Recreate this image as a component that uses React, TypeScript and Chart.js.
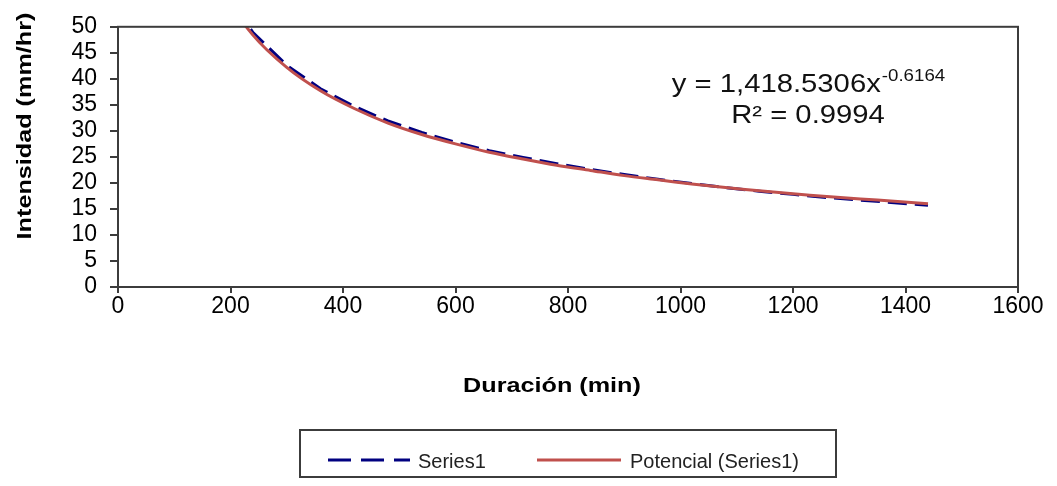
import React, { useEffect, useRef } from 'react';
import { Chart, registerables } from 'chart.js';

Chart.register(...registerables);

// ---- data ----
const durations = [60, 120, 180, 240, 300, 360, 420, 480, 540, 600, 660, 720, 780, 840, 900, 960, 1020, 1080, 1140, 1200, 1260, 1320, 1380, 1440];
const series1 = [108.0, 73.5, 58.2, 48.9, 42.6, 38.1, 34.7, 31.9, 29.7, 27.8, 26.2, 24.9, 23.7, 22.6, 21.6, 20.7, 19.9, 19.1, 18.4, 17.8, 17.2, 16.7, 16.2, 15.7];
const trendValues = [113.7, 74.2, 57.8, 48.4, 42.2, 37.7, 34.3, 31.5, 29.3, 27.5, 25.9, 24.6, 23.4, 22.4, 21.4, 20.6, 19.8, 19.1, 18.5, 17.9, 17.4, 16.9, 16.5, 16.0];

const seriesName = 'Series1';
const trendName = 'Potencial (Series1)';
const xTitle = 'Duración (min)';
const yTitle = 'Intensidad (mm/hr)';
const eqMain = 'y = 1,418.5306x';
const eqExp = '-0.6164';
const eqR2 = 'R² = 0.9994';

const X_MIN = 0, X_MAX = 1600, X_STEP = 200;
const Y_MIN = 0, Y_MAX = 50, Y_STEP = 5;

const AXIS = '#3c3c3c';
const BLUE = '#000080';
const RED = '#C0504D';
const DASH = [19, 8];
const FONT = '"Liberation Sans", Arial, sans-serif';

function stretchText(ctx: CanvasRenderingContext2D, text: string, x: number, y: number, font: string, sx: number, align: CanvasTextAlign, color: string) {
  ctx.save();
  ctx.font = font;
  ctx.fillStyle = color;
  ctx.textAlign = align;
  ctx.textBaseline = 'alphabetic';
  ctx.translate(x, y);
  ctx.scale(sx, 1);
  ctx.fillText(text, 0, 0);
  ctx.restore();
}

const overlay = {
  id: 'overlay',
  afterDraw(chart: any) {
    const { ctx, chartArea: a } = chart;
    ctx.save();
    // plot frame
    ctx.strokeStyle = AXIS;
    ctx.lineWidth = 2;
    ctx.strokeRect(a.left, a.top, a.right - a.left, a.bottom - a.top);

    // y title (rotated)
    ctx.save();
    ctx.translate(31, 126);
    ctx.rotate(-Math.PI / 2);
    ctx.scale(1.2, 1);
    ctx.font = 'bold 21px ' + FONT;
    ctx.fillStyle = '#000';
    ctx.textAlign = 'center';
    ctx.textBaseline = 'alphabetic';
    ctx.fillText(yTitle, 0, 0);
    ctx.restore();

    // x title
    stretchText(ctx, xTitle, 552, 392, 'bold 21px ' + FONT, 1.2, 'center', '#000');

    // equation
    const fMain = '25px ' + FONT;
    const fExp = '17px ' + FONT;
    ctx.font = fMain;
    const w1 = ctx.measureText(eqMain).width * 1.17;
    ctx.font = fExp;
    const w2 = ctx.measureText(eqExp).width * 1.1;
    const cx = 808;
    const start = cx - (w1 + w2) / 2;
    stretchText(ctx, eqMain, start, 92, fMain, 1.17, 'left', '#111');
    stretchText(ctx, eqExp, start + w1 + 1, 81, fExp, 1.1, 'left', '#111');
    stretchText(ctx, eqR2, cx, 123, fMain, 1.17, 'center', '#111');

    // legend box
    ctx.strokeStyle = AXIS;
    ctx.lineWidth = 2;
    ctx.strokeRect(300, 430, 536, 47);
    // series1 sample
    ctx.save();
    ctx.strokeStyle = BLUE;
    ctx.lineWidth = 3;
    ctx.setLineDash([23, 10]);
    ctx.beginPath();
    ctx.moveTo(328, 460);
    ctx.lineTo(410, 460);
    ctx.stroke();
    ctx.restore();
    stretchText(ctx, seriesName, 418, 468, '20px ' + FONT, 1.0, 'left', '#222');
    // trend sample
    ctx.strokeStyle = RED;
    ctx.lineWidth = 3;
    ctx.beginPath();
    ctx.moveTo(537, 460);
    ctx.lineTo(621, 460);
    ctx.stroke();
    stretchText(ctx, trendName, 630, 468, '20px ' + FONT, 1.0, 'left', '#222');
    ctx.restore();
  },
};

export default function App() {
  const ref = useRef<HTMLCanvasElement | null>(null);

  useEffect(() => {
    if (!ref.current) return;
    const chart = new Chart(ref.current, {
      type: 'scatter',
      data: {
        datasets: [
          {
            label: trendName,
            data: durations.map((x, i) => ({ x, y: trendValues[i] })),
            showLine: true,
            borderColor: RED,
            borderWidth: 3,
            pointRadius: 0,
            tension: 0.3,
            order: 0,
          },
          {
            label: seriesName,
            data: durations.map((x, i) => ({ x, y: series1[i] })),
            showLine: true,
            borderColor: BLUE,
            borderWidth: 3,
            borderDash: DASH,
            pointRadius: 0,
            order: 1,
          },
        ],
      },
      options: {
        animation: false,
        responsive: false,
        maintainAspectRatio: false,
        layout: { padding: { left: 0, top: 20, right: 39, bottom: 0 } },
        plugins: { legend: { display: false }, tooltip: { enabled: false } },
        scales: {
          x: {
            type: 'linear',
            min: X_MIN,
            max: X_MAX,
            afterFit: (s: any) => { s.height = 199; },
            ticks: {
              stepSize: X_STEP,
              color: '#000',
              padding: 0,
              maxRotation: 0,
              autoSkip: false,
              callback: (v: any) => String(v),
              font: { family: FONT, size: 23 },
            },
            grid: { display: true, drawOnChartArea: false, tickLength: 6, color: AXIS, lineWidth: 2 },
            border: { display: true, color: AXIS, width: 2 },
          },
          y: {
            type: 'linear',
            min: Y_MIN,
            max: Y_MAX,
            afterFit: (s: any) => { s.width = 118; },
            ticks: {
              stepSize: Y_STEP,
              color: '#000',
              padding: 13,
              autoSkip: false,
              callback: (v: any) => String(v),
              font: { family: FONT, size: 23 },
            },
            grid: { display: true, drawOnChartArea: false, tickLength: 8, color: AXIS, lineWidth: 2 },
            border: { display: true, color: AXIS, width: 2 },
          },
        },
      },
      plugins: [overlay],
    });
    return () => chart.destroy();
  }, []);

  return (
    <div style={{ position: 'absolute', left: 0, top: 0, width: 1057, height: 486, background: '#fff' }}>
      <canvas ref={ref} width={1057} height={486} style={{ display: 'block', width: 1057, height: 486 }} />
    </div>
  );
}
